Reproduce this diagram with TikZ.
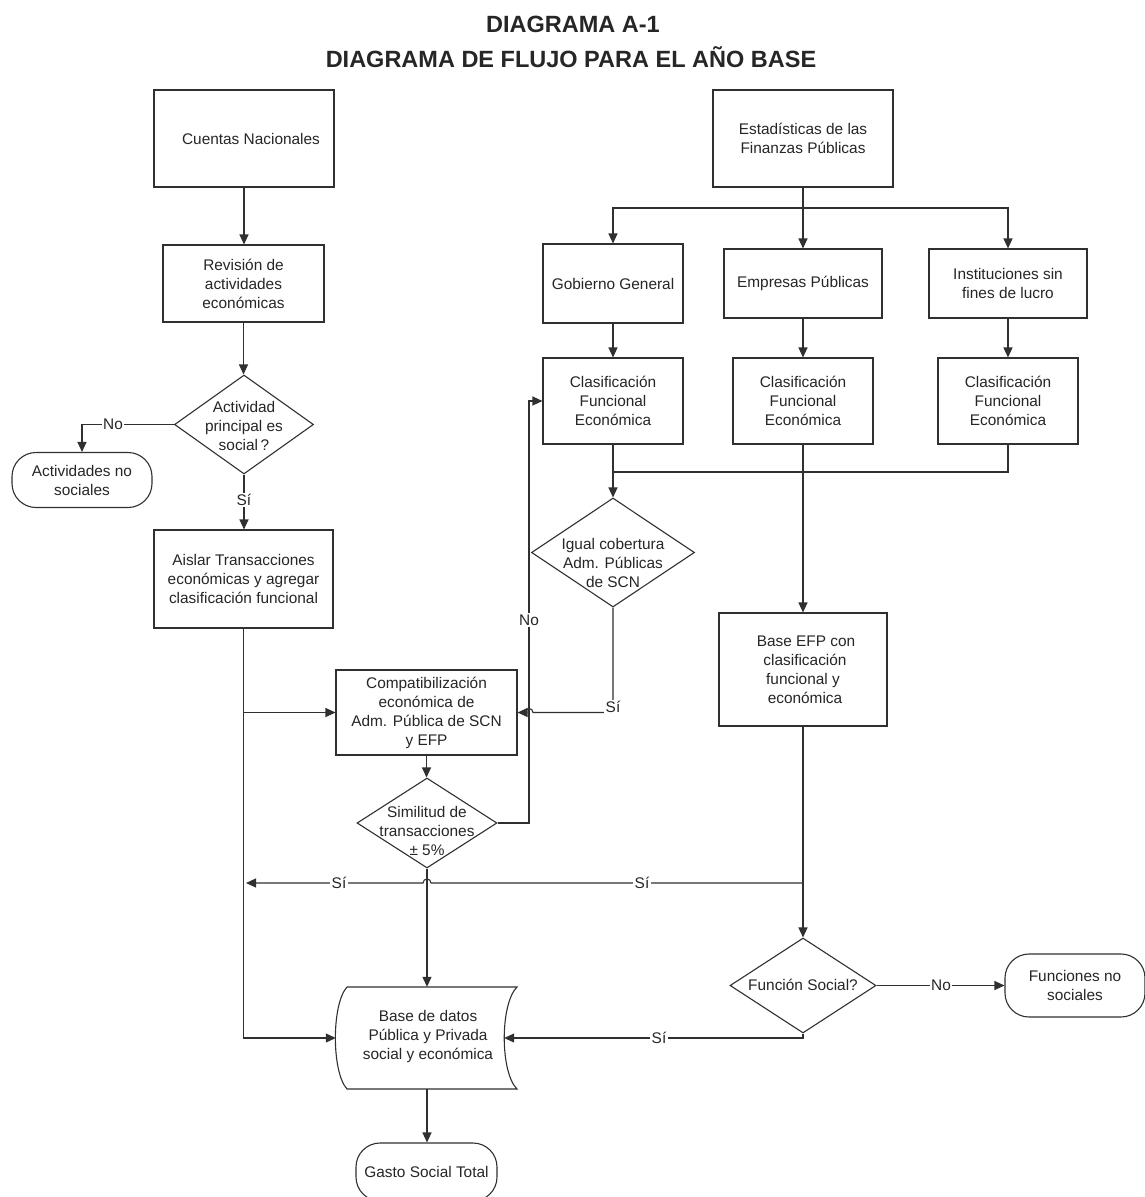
\documentclass[tikz,border=0pt]{standalone}
\usepackage{fontspec}
\setmainfont{Liberation Sans}
\usetikzlibrary{arrows.meta,shapes.geometric}
\definecolor{ln}{HTML}{303030}
\definecolor{tx}{HTML}{262626}
\tikzset{
 txt/.style={font=\fontsize{15.4}{19}\selectfont, text=tx, align=center},
 bx/.style={txt, draw=ln, line width=1.1pt, rectangle, inner sep=0pt},
 dia/.style={draw=ln, line width=1.1pt, diamond, inner sep=0pt, aspect=1},
 term/.style={txt, draw=ln, line width=1.1pt, rectangle, rounded corners=24pt, inner sep=0pt},
 lbl/.style={txt, fill=white, inner sep=1.5pt},
 conn/.style={draw=ln, line width=1.1pt},
 arr/.style={conn, -{Triangle[length=10pt,width=9pt]}},
 ttl/.style={font=\fontsize{23.5}{28}\selectfont\bfseries, text=tx, anchor=base},
}
\begin{document}
\begin{tikzpicture}[x=1pt,y=-1pt]
\useasboundingbox (0,0) rectangle (1145,1197);
\fill[white] (0,0) rectangle (1145,1197);
\clip (0,0) rectangle (1145,1197);

% title
\node[ttl] (t1) at (573,32) {DIAGRAMA A-1};
\node[ttl] (t2) at (571,67) {DIAGRAMA DE FLUJO PARA EL AÑO BASE};

% left column
\node[bx, minimum width=180pt, minimum height=97pt] (cn) at (244,138.5) {\hspace*{14pt}Cuentas Nacionales};
\node[bx, minimum width=161pt, minimum height=77pt] (rev) at (243.5,283.5) {Revisión de\\actividades\\económicas};
\node[dia, minimum width=139pt, minimum height=99pt] (d1) at (244,424.5) {};
\node[txt] (d1t) at (244,426) {Actividad\\principal es\\social\,?};
\node[term, minimum width=140pt, minimum height=55pt] (ans) at (82,480) {Actividades no\\sociales};
\node[bx, minimum width=179pt, minimum height=98pt] (ais) at (243.5,579) {Aislar Transacciones\\económicas y agregar\\clasificación funcional};
\node[bx, minimum width=181pt, minimum height=85pt] (comp) at (426.5,712.5) {Compatibilización\\económica de\\Adm. Pública de SCN\\y EFP};
\node[dia, minimum width=140pt, minimum height=90pt] (sim) at (427,823) {};
\node[txt] (simt) at (427,831) {Similitud de\\transacciones\\± 5\%};
\node[inner sep=0pt, minimum width=168pt, minimum height=102pt] (bd) at (420,1038) {};
\draw[conn] (347,987) -- (517,987) .. controls (500,1004) and (500,1072) .. (517,1089)
  -- (347,1089) .. controls (331.5,1072) and (331.5,1004) .. (347,987) -- cycle;
\node[txt] (bdt) at (428,1037) {Base de datos\\Pública y Privada\\social y económica};
\node[term, minimum width=141pt, minimum height=58pt] (gst) at (426.5,1172) {Gasto Social Total};

% right side
\node[bx, minimum width=180pt, minimum height=97pt] (efp) at (803,138.5) {Estadísticas de las\\Finanzas Públicas};
\node[bx, minimum width=140pt, minimum height=79pt] (gg) at (613,283.5) {Gobierno General};
\node[bx, minimum width=158pt, minimum height=69pt] (ep) at (803,283.5) {Empresas Públicas};
\node[bx, minimum width=158pt, minimum height=69pt] (inst) at (1008,283.5) {Instituciones sin\\fines de lucro};
\node[bx, minimum width=140pt, minimum height=86pt] (cgg) at (613,401) {Clasificación\\Funcional\\Económica};
\node[bx, minimum width=140pt, minimum height=86pt] (cep) at (803,401) {Clasificación\\Funcional\\Económica};
\node[bx, minimum width=140pt, minimum height=86pt] (cin) at (1008,401) {Clasificación\\Funcional\\Económica};
\node[dia, minimum width=163pt, minimum height=109pt] (ig) at (613,552.5) {};
\node[txt] (igt) at (613,563) {Igual cobertura\\Adm. Públicas\\de SCN};
\node[bx, minimum width=168pt, minimum height=113pt] (befp) at (803,669.5) {\hspace*{6pt}Base EFP con\\\hspace*{4pt}clasificación\\funcional y\\\hspace*{4pt}económica};
\node[dia, minimum width=146pt, minimum height=95pt] (fs) at (803,985.5) {};
\node[txt] (fst) at (803,985) {Función Social?};
\node[term, minimum width=140pt, minimum height=63pt] (fns) at (1075,985.5) {Funciones no\\sociales};

% coordinates
\coordinate (nox) at (529,823);
\coordinate (jr) at (803,883);
\coordinate (jl) at (244,883);
\coordinate (br) at (803,208);
\coordinate (mr) at (1008,472);

% left connectors
\draw[arr] (cn.south) -- (cn.south |- rev.north);
\draw[arr] (rev.south) -- (rev.south |- d1.north);
\draw[arr] (d1.west) -| (ans.north);
\draw[arr] (d1.south) -- (d1.south |- ais.north);
\draw[arr] (ais.south) |- (bd.west);
\draw[arr] (ais.south |- comp.west) -- (comp.west);
\draw[arr] (comp.south) -- (comp.south |- sim.north);
\draw[arr] (sim.east) -- (nox) |- (cgg.west);
\draw[arr] (ig.south) -- (ig.south |- comp.east) -- (533,712.5)
  .. controls (533,707.2) and (525,707.2) .. (525,712.5) -- (comp.east);
\draw[arr, shorten >=2pt] (jr) -- (431,883) .. controls (431,877.7) and (423,877.7) .. (423,883) -- (jl);
\draw[arr] (sim.south) -- (sim.south |- bd.north);
\draw[arr] (sim.south |- bd.south) -- (sim.south |- gst.north);

% right connectors
\draw[conn] (efp.south) -- (br);
\draw[arr] (br) -| (gg.north);
\draw[arr] (br) -| (inst.north);
\draw[arr] (br) -- (ep.north);
\draw[arr] (gg.south) -- (cgg.north);
\draw[arr] (ep.south) -- (cep.north);
\draw[arr] (inst.south) -- (cin.north);
\draw[conn] (cin.south) -- (mr) -- (cgg.south |- mr);
\draw[arr] (cgg.south) -- (cgg.south |- ig.north);
\draw[arr] (cep.south) -- (befp.north);
\draw[arr] (befp.south) -- (fs.north);
\draw[arr] (fs.east) -- (fns.west);
\draw[arr] (fs.south) -- (fs.south |- bd.east) -- (bd.east);

% labels
\node[lbl] (lno1) at (113,424.5) {No};
\node[lbl] (lsi1) at (244,500) {Sí};
\node[lbl] (lno2) at (529,620) {No};
\node[lbl] (lsi2) at (613,707) {Sí};
\node[lbl] (lsi3) at (339,883) {Sí};
\node[lbl] (lsi4) at (642,883) {Sí};
\node[lbl] (lno3) at (941,985.5) {No};
\node[lbl] (lsi5) at (659,1038) {Sí};
\end{tikzpicture}
\end{document}
